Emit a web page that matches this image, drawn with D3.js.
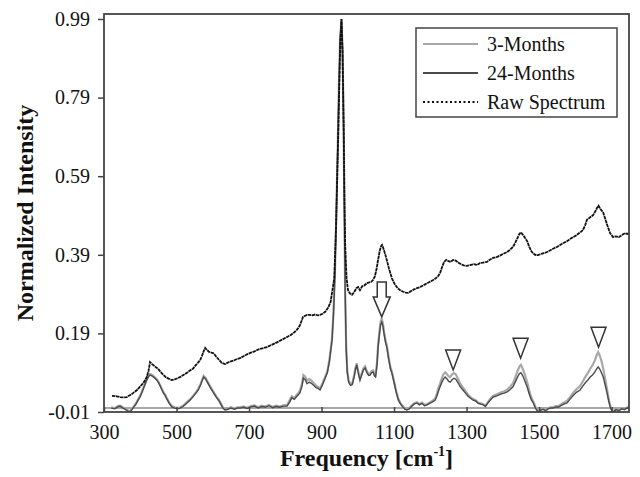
<!DOCTYPE html>
<html>
<head>
<meta charset="utf-8">
<script src="https://cdn.jsdelivr.net/npm/d3@7"></script>
<style>
  body { margin: 0; background: #fff; }
  svg { display: block; }
  svg text { font-family: "Liberation Serif", "DejaVu Serif", serif; }
</style>
</head>
<body>
<svg id="chart" width="640" height="477"></svg>
<script>
// tick values
const xTicks = [300, 500, 700, 900, 1100, 1300, 1500, 1700]
const yTicks = [-0.01, 0.19, 0.39, 0.59, 0.79, 0.99]

// lower (processed) spectra share one frequency axis
const freqLow = [
  320, 330, 338, 344, 352, 360, 366, 372, 380, 388,
  394, 399, 405, 411, 418, 423, 427, 432, 438, 446,
  452, 458, 463, 468, 474, 480, 487, 495, 503, 510,
  518, 525, 531, 537, 543, 549, 555, 560, 566, 571,
  575, 580, 586, 592, 598, 604, 610, 616, 622, 628,
  634, 642, 650, 660, 668, 675, 685, 695, 705, 715,
  725, 735, 745, 755, 765, 775, 785, 795, 805, 812,
  818, 825, 832, 840, 846, 850, 855, 860, 866, 872,
  878, 885, 890, 896, 903, 910, 916, 922, 929, 933,
  937, 941, 945, 948, 951, 955, 958, 961, 963, 965,
  968, 971, 975, 980, 985, 990, 994, 997, 1001, 1006,
  1011, 1016, 1020, 1025, 1030, 1034, 1038, 1042, 1046, 1049,
  1053, 1056, 1060, 1063, 1066, 1069, 1073, 1077, 1080, 1085,
  1090, 1094, 1100, 1106, 1112, 1118, 1124, 1130, 1135, 1142,
  1148, 1155, 1163, 1170, 1177, 1184, 1191, 1198, 1205, 1213,
  1218, 1222, 1227, 1232, 1237, 1241, 1246, 1251, 1255, 1260,
  1265, 1270, 1276, 1282, 1290, 1297, 1304, 1311, 1318, 1325,
  1332, 1339, 1346, 1352, 1358, 1365, 1373, 1380, 1388, 1396,
  1404, 1412, 1420, 1428, 1435, 1441, 1446, 1450, 1455, 1461,
  1467, 1473, 1479, 1484, 1490, 1497, 1504, 1511, 1518, 1525,
  1532, 1539, 1546, 1553, 1560, 1568, 1577, 1585, 1594, 1603,
  1613, 1620, 1628, 1635, 1641, 1648, 1654, 1659, 1663, 1667,
  1672, 1677, 1682, 1687, 1692, 1696, 1700, 1705, 1712, 1720,
  1728, 1735, 1743, 1748
]

const months24 = [
  0.0, -0.002, 0.003, 0.005, 0.0, -0.004, -0.008, -0.01, 0.0, 0.01,
  0.02, 0.028, 0.04, 0.055, 0.071, 0.08, 0.084, 0.082, 0.078, 0.071,
  0.062, 0.05, 0.04, 0.033, 0.022, 0.012, 0.003, 0.0, -0.002, 0.0,
  0.004, 0.01, 0.015, 0.02, 0.026, 0.033, 0.04, 0.046, 0.058, 0.07,
  0.079, 0.074, 0.064, 0.054, 0.045, 0.036, 0.027, 0.02, 0.01, 0.0,
  -0.005, -0.003, 0.0, -0.003, 0.0, 0.0, 0.002, -0.001, 0.003, 0.005,
  0.0, 0.004, 0.002, 0.006, 0.001, 0.004, 0.002, 0.005, 0.005, 0.015,
  0.026, 0.022, 0.03, 0.038, 0.055, 0.076, 0.072, 0.062, 0.066, 0.063,
  0.058, 0.052, 0.05, 0.046, 0.06, 0.076, 0.09, 0.12, 0.173, 0.24,
  0.34, 0.5, 0.68, 0.82, 0.93, 0.99, 0.91, 0.7, 0.5, 0.3,
  0.15, 0.09, 0.065, 0.058, 0.06, 0.08, 0.1, 0.11, 0.09, 0.071,
  0.085, 0.098, 0.102, 0.09, 0.083, 0.084, 0.09, 0.092, 0.082, 0.079,
  0.11, 0.155, 0.19, 0.212, 0.219, 0.21, 0.185, 0.165, 0.155, 0.125,
  0.1, 0.089, 0.065, 0.04, 0.02, 0.01, 0.003, -0.003, -0.005, -0.002,
  0.004, 0.01, 0.013, 0.008, 0.012, 0.006, 0.008, 0.012, 0.015, 0.02,
  0.03, 0.042, 0.054, 0.066, 0.075, 0.079, 0.074, 0.068, 0.066, 0.072,
  0.076, 0.074, 0.065, 0.055, 0.046, 0.038, 0.03, 0.025, 0.02, 0.018,
  0.012, 0.01, 0.008, 0.004, 0.012, 0.02, 0.028, 0.03, 0.033, 0.036,
  0.038, 0.041, 0.047, 0.054, 0.068, 0.08, 0.088, 0.09, 0.082, 0.068,
  0.054, 0.035, 0.02, 0.013, 0.0, -0.01, -0.006, -0.003, -0.007, -0.002,
  0.0, 0.0, 0.003, 0.002, 0.006, 0.01, 0.013, 0.022, 0.032, 0.04,
  0.046, 0.055, 0.065, 0.072, 0.079, 0.085, 0.092, 0.1, 0.105, 0.1,
  0.09, 0.079, 0.06, 0.04, 0.018, 0.003, -0.006, -0.01, -0.004, -0.007,
  -0.002, -0.004, 0.0, 0.0
]

const months3 = [
  0.002, 0.0, 0.005, 0.006, 0.002, -0.002, -0.006, -0.008, 0.002, 0.012,
  0.022, 0.03, 0.043, 0.058, 0.074, 0.083, 0.087, 0.085, 0.08, 0.073,
  0.064, 0.052, 0.042, 0.035, 0.024, 0.014, 0.005, 0.002, 0.0, 0.002,
  0.006, 0.012, 0.017, 0.022, 0.028, 0.035, 0.042, 0.049, 0.061, 0.073,
  0.082, 0.077, 0.067, 0.057, 0.047, 0.038, 0.029, 0.022, 0.012, 0.002,
  -0.003, -0.001, 0.002, -0.001, 0.002, 0.002, 0.004, 0.001, 0.005, 0.007,
  0.002, 0.006, 0.004, 0.008, 0.003, 0.006, 0.004, 0.007, 0.008, 0.02,
  0.03, 0.026, 0.034, 0.043, 0.062, 0.084, 0.08, 0.07, 0.074, 0.07,
  0.064, 0.057, 0.054, 0.05, 0.064, 0.08, 0.094, 0.125, 0.178, 0.245,
  0.345, 0.505, 0.685, 0.825, 0.935, 0.99, 0.915, 0.705, 0.505, 0.305,
  0.155, 0.094, 0.069, 0.062, 0.064, 0.084, 0.104, 0.114, 0.094, 0.075,
  0.089, 0.102, 0.106, 0.094, 0.087, 0.088, 0.094, 0.096, 0.086, 0.084,
  0.116, 0.162, 0.198, 0.22, 0.227, 0.217, 0.191, 0.17, 0.16, 0.129,
  0.104, 0.093, 0.068, 0.043, 0.023, 0.012, 0.005, -0.001, -0.003, 0.0,
  0.006, 0.012, 0.015, 0.01, 0.014, 0.008, 0.01, 0.014, 0.018, 0.024,
  0.036, 0.05, 0.063, 0.077, 0.087, 0.091, 0.086, 0.08, 0.079, 0.086,
  0.089, 0.086, 0.075, 0.063, 0.052, 0.043, 0.034, 0.028, 0.023, 0.02,
  0.014, 0.012, 0.01, 0.006, 0.014, 0.023, 0.031, 0.034, 0.037, 0.04,
  0.043, 0.047, 0.054, 0.063, 0.08, 0.095, 0.106, 0.11, 0.1, 0.084,
  0.066, 0.044, 0.026, 0.017, 0.003, -0.008, -0.004, -0.001, -0.005, 0.0,
  0.002, 0.002, 0.005, 0.005, 0.009, 0.014, 0.018, 0.028, 0.039, 0.048,
  0.056, 0.067, 0.08, 0.09, 0.1, 0.11, 0.122, 0.135, 0.142, 0.134,
  0.12, 0.1, 0.075, 0.05, 0.024, 0.006, -0.004, -0.008, -0.002, -0.005,
  0.0, -0.002, 0.002, 0.002
]

// raw spectrum
const freqRaw = [
  322, 335, 345, 355, 363, 372, 380, 391, 400, 410,
  418, 423, 427, 432, 438, 444, 449, 456, 463, 470,
  478, 487, 495, 503, 512, 520, 528, 536, 545, 552,
  558, 565, 570, 575, 579, 584, 590, 596, 601, 606,
  612, 618, 625, 634, 642, 650, 658, 667, 675, 685,
  695, 705, 715, 725, 737, 749, 760, 772, 783, 795,
  805, 815, 825, 832, 840, 845, 849, 855, 860, 868,
  875, 882, 890, 896, 903, 910, 918, 925, 930, 935,
  940, 943, 946, 949, 952, 955, 958, 961, 963, 965,
  969, 973, 978, 984, 990, 996, 1001, 1006, 1012, 1018,
  1025, 1032, 1038, 1042, 1047, 1052, 1056, 1060, 1064, 1067,
  1071, 1076, 1080, 1086, 1094, 1102, 1110, 1117, 1125, 1132,
  1139, 1146, 1155, 1163, 1172, 1180, 1190, 1200, 1208, 1215,
  1222, 1227, 1233, 1238, 1244, 1250, 1256, 1263, 1270, 1278,
  1285, 1292, 1300, 1310, 1320, 1329, 1337, 1345, 1356, 1365,
  1373, 1383, 1392, 1400, 1412, 1420, 1428, 1434, 1440, 1445,
  1450, 1456, 1462, 1467, 1473, 1480, 1489, 1497, 1505, 1514,
  1522, 1530, 1540, 1549, 1558, 1567, 1576, 1585, 1594, 1603,
  1612, 1621, 1627, 1632, 1640, 1649, 1656, 1660, 1664, 1668,
  1673, 1677, 1683, 1690, 1696, 1704, 1712, 1720, 1728, 1737,
  1744, 1748
]

const rawSpectrum = [
  0.031, 0.03, 0.028, 0.027, 0.028, 0.033, 0.038, 0.046, 0.055, 0.066,
  0.079, 0.095, 0.117, 0.112, 0.108, 0.103, 0.1, 0.092, 0.085, 0.079,
  0.075, 0.071, 0.073, 0.076, 0.08, 0.085, 0.089, 0.095, 0.1, 0.108,
  0.114, 0.122, 0.132, 0.145, 0.153, 0.148, 0.143, 0.141, 0.14, 0.135,
  0.128, 0.122, 0.115, 0.112, 0.116, 0.119, 0.121, 0.125, 0.127, 0.132,
  0.137, 0.141, 0.144, 0.149, 0.152, 0.155, 0.16, 0.165, 0.17, 0.176,
  0.181, 0.186, 0.193, 0.199, 0.21, 0.222, 0.232, 0.235, 0.237, 0.237,
  0.236, 0.238, 0.236, 0.237, 0.24, 0.245, 0.255, 0.27, 0.3, 0.33,
  0.46, 0.58, 0.69, 0.82, 0.94, 0.99, 0.9, 0.72, 0.55, 0.42,
  0.33, 0.3, 0.292, 0.288, 0.295, 0.305, 0.308, 0.3, 0.31, 0.312,
  0.318, 0.32, 0.322, 0.326, 0.335, 0.355, 0.377, 0.398, 0.412, 0.415,
  0.405, 0.39, 0.377, 0.355, 0.33, 0.315, 0.305, 0.3, 0.296, 0.294,
  0.293, 0.297, 0.302, 0.305, 0.308, 0.312, 0.317, 0.322, 0.326, 0.33,
  0.336, 0.344, 0.36, 0.372, 0.377, 0.374, 0.372, 0.377, 0.375, 0.37,
  0.366, 0.363, 0.362, 0.364, 0.366, 0.364, 0.369, 0.37, 0.372, 0.378,
  0.382, 0.384, 0.388, 0.392, 0.397, 0.403, 0.41, 0.42, 0.432, 0.442,
  0.447, 0.44, 0.432, 0.425, 0.41, 0.397, 0.39, 0.389, 0.392, 0.394,
  0.397, 0.401, 0.406, 0.41, 0.415, 0.42, 0.424, 0.43, 0.435, 0.44,
  0.446, 0.453, 0.465, 0.479, 0.485, 0.491, 0.502, 0.51, 0.515, 0.508,
  0.502, 0.497, 0.48, 0.46, 0.445, 0.435, 0.437, 0.435, 0.44, 0.445,
  0.443, 0.446
]

// annotation markers: big arrow and three triangles (tip position)
const arrowFreq = 1066
const arrowTip = 0.232
const triFreq = [1263, 1449, 1664]
const triTip = [0.097, 0.127, 0.155]

const legendNames = ['3-Months', '24-Months', 'Raw Spectrum']

const serif = '"Liberation Serif", "DejaVu Serif", serif'

const margin = { top: 14, right: 11, bottom: 65, left: 104 }
const width = 640 - margin.left - margin.right
const height = 477 - margin.top - margin.bottom

const svg = d3.select('#chart')
const g = svg.append('g').attr('transform', `translate(${margin.left},${margin.top})`)

const x = d3.scaleLinear().domain([300, 1748]).range([0, width])
const y = d3.scaleLinear().domain([-0.01, 1.0027]).range([height, 0])

g.append('clipPath').attr('id', 'clip')
  .append('rect').attr('width', width).attr('height', height)

// zero line
g.append('line')
  .attr('x1', 0).attr('x2', width)
  .attr('y1', y(0)).attr('y2', y(0))
  .attr('stroke', '#8a8a8a').attr('stroke-width', 1.5)

const lowData = freqLow.map((f, i) => ({ f, m3: months3[i], m24: months24[i] }))
const rawData = freqRaw.map((f, i) => ({ f, v: rawSpectrum[i] }))

const plot = g.append('g').attr('clip-path', 'url(#clip)')

plot.append('path')
  .datum(lowData)
  .attr('fill', 'none')
  .attr('stroke', '#a8a8a8')
  .attr('stroke-width', 2.2)
  .attr('d', d3.line().x(d => x(d.f)).y(d => y(d.m3)))

plot.append('path')
  .datum(lowData)
  .attr('fill', 'none')
  .attr('stroke', '#4a4a4a')
  .attr('stroke-width', 1.4)
  .attr('d', d3.line().x(d => x(d.f)).y(d => y(d.m24)))

plot.append('path')
  .datum(rawData)
  .attr('fill', 'none')
  .attr('stroke', '#111')
  .attr('stroke-width', 1.8)
  .attr('stroke-dasharray', '3.5,0.6')
  .attr('d', d3.line().x(d => x(d.f)).y(d => y(d.v)))

// hollow arrow
const ax = x(arrowFreq), ay = y(arrowTip)
g.append('path')
  .attr('d', `M${ax - 4.5},${ay - 35} L${ax + 4.5},${ay - 35} L${ax + 4.5},${ay - 20} L${ax + 8.5},${ay - 20} L${ax},${ay} L${ax - 8.5},${ay - 20} L${ax - 4.5},${ay - 20} Z`)
  .attr('fill', '#fff').attr('stroke', '#333').attr('stroke-width', 1.5)

// hollow triangles
g.selectAll('.tri')
  .data(triFreq)
  .enter()
  .append('path')
  .attr('class', 'tri')
  .attr('d', (d, i) => {
    const tx = x(d), ty = y(triTip[i])
    return `M${tx - 7.5},${ty - 20} L${tx + 7.5},${ty - 20} L${tx},${ty} Z`
  })
  .attr('fill', '#fff').attr('stroke', '#333').attr('stroke-width', 1.5)

// frame
g.append('rect')
  .attr('width', width).attr('height', height)
  .attr('fill', 'none').attr('stroke', '#444').attr('stroke-width', 1.8)

// axes
const xAxis = g.append('g')
  .attr('transform', `translate(0,${height})`)
  .call(d3.axisBottom(x).tickValues(xTicks).tickFormat(d3.format('d')).tickSizeInner(-5).tickSizeOuter(0).tickPadding(13))
xAxis.attr('font-family', serif)
xAxis.select('.domain').remove()
xAxis.selectAll('line').attr('stroke', '#444').attr('stroke-width', 1.5)
xAxis.selectAll('text').attr('font-size', 20).attr('fill', '#111')

const yAxis = g.append('g')
  .call(d3.axisLeft(y).tickValues(yTicks).tickSizeInner(6).tickSizeOuter(0).tickPadding(8))
yAxis.attr('font-family', serif)
yAxis.select('.domain').remove()
yAxis.selectAll('line').attr('stroke', '#444').attr('stroke-width', 1.5)
yAxis.selectAll('text').attr('font-size', 20).attr('fill', '#111')
  .text(d => d3.format('.2f')(d).replace('−', '-'))

// axis titles
const xTitle = svg.append('text')
  .attr('x', margin.left + width / 2)
  .attr('y', 466)
  .attr('text-anchor', 'middle')
  .attr('font-size', 24).attr('font-weight', 'bold').attr('fill', '#111')
xTitle.append('tspan').text('Frequency [cm')
xTitle.append('tspan').attr('font-size', 14).attr('dy', -10).text('-1')
xTitle.append('tspan').attr('dy', 10).text(']')

svg.append('text')
  .attr('transform', `translate(33,${margin.top + height / 2}) rotate(-90)`)
  .attr('text-anchor', 'middle')
  .attr('font-size', 24).attr('font-weight', 'bold').attr('fill', '#111')
  .text('Normalized Intensity')

// legend
const legend = svg.append('g').attr('transform', 'translate(416,28)')
legend.append('rect')
  .attr('width', 201).attr('height', 89)
  .attr('fill', '#fff').attr('stroke', '#444').attr('stroke-width', 1.5)
const legendStroke = ['#a8a8a8', '#4a4a4a', '#111']
const legendDash = [null, null, '2,2.5']
const legendRow = legend.selectAll('.row')
  .data(legendNames)
  .enter()
  .append('g')
  .attr('transform', (d, i) => `translate(0,${16 + i * 29})`)
legendRow.append('line')
  .attr('x1', 7).attr('x2', 62)
  .attr('stroke', (d, i) => legendStroke[i])
  .attr('stroke-width', (d, i) => i === 2 ? 2 : 1.8)
  .attr('stroke-dasharray', (d, i) => legendDash[i])
legendRow.append('text')
  .attr('x', 71).attr('y', 7)
  .attr('font-size', 20).attr('fill', '#111')
  .text(d => d)
</script>
</body>
</html>
